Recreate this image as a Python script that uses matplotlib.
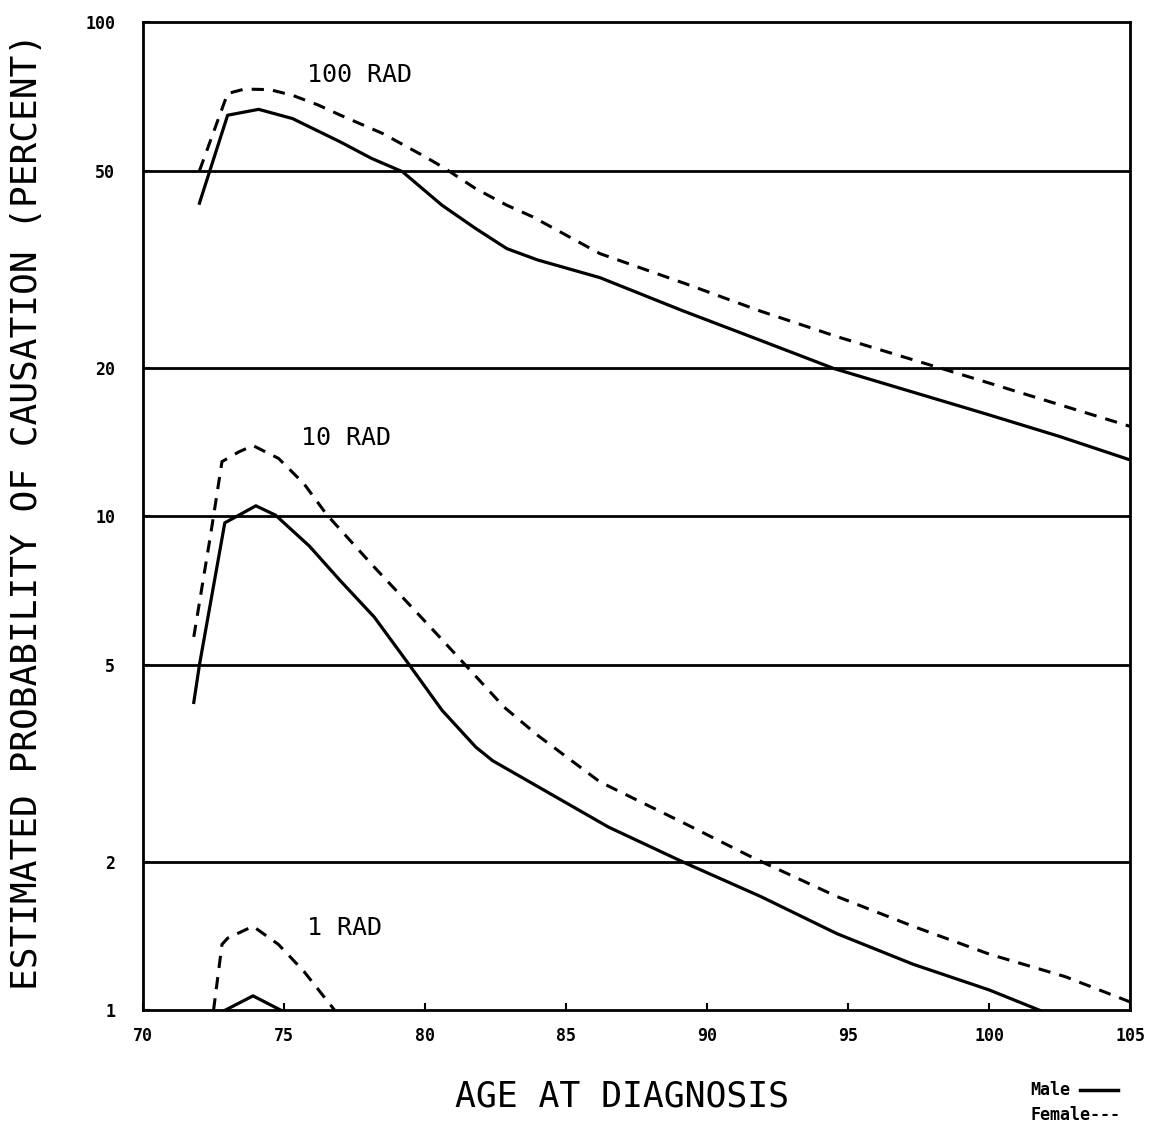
import matplotlib
matplotlib.use("Agg")
import matplotlib.pyplot as plt
from matplotlib.lines import Line2D

# 100 rad
age_m100 = [72.0, 73.0, 74.1, 75.3, 77.0, 78.1, 79.2, 80.6, 81.8, 82.9, 84.0, 86.2, 89.1, 91.8, 94.5, 97.2, 99.9, 102.5, 105.0]
m100 = [43.0, 64.8, 66.6, 63.8, 57.2, 53.0, 49.8, 42.6, 38.2, 34.8, 33.0, 30.4, 26.1, 22.8, 19.9, 17.9, 16.1, 14.5, 13.0]
age_f100 = [72.0, 73.0, 73.6, 74.5, 75.3, 76.2, 77.0, 78.5, 80.0, 80.7, 81.8, 82.9, 83.8, 86.2, 89.2, 91.9, 94.6, 98.7, 100.0, 105.0]
f100 = [50.0, 71.7, 73.2, 73.0, 71.1, 68.0, 64.8, 59.5, 53.4, 50.6, 46.0, 42.6, 40.4, 34.0, 29.6, 26.0, 23.1, 19.6, 18.6, 15.2]

# 10 rad
age_m10 = [71.8, 72.0, 72.9, 73.4, 74.0, 74.7, 75.9, 77.0, 78.2, 79.4, 80.6, 81.8, 82.4, 83.8, 86.5, 89.2, 91.9, 94.6, 97.3, 100.0, 101.8]
m10 = [4.2, 5.0, 9.7, 10.05, 10.5, 10.05, 8.7, 7.4, 6.25, 5.04, 4.05, 3.41, 3.2, 2.88, 2.35, 1.99, 1.70, 1.43, 1.24, 1.10, 1.0]
age_f10 = [71.8, 72.4, 72.8, 73.4, 73.9, 74.8, 75.7, 76.5, 78.1, 79.3, 80.4, 81.6, 82.8, 84.0, 86.2, 89.2, 91.6, 94.6, 97.3, 100.0, 102.7, 105.0]
f10 = [5.7, 9.2, 12.9, 13.5, 13.9, 13.1, 11.65, 10.1, 8.0, 6.76, 5.79, 4.88, 4.11, 3.6, 2.9, 2.39, 2.04, 1.70, 1.48, 1.30, 1.17, 1.04]

# 1 rad
age_m1 = [72.9, 73.9, 74.9]
m1 = [1.0, 1.07, 1.0]
age_f1 = [72.5, 72.8, 73.0, 73.9, 74.8, 75.7, 76.8]
f1 = [1.0, 1.36, 1.40, 1.48, 1.36, 1.20, 1.0]

grid_levels = [2, 5, 10, 20, 50]
yticks = [1, 2, 5, 10, 20, 50, 100]
xticks = [70, 75, 80, 85, 90, 95, 100, 105]
dose_labels = ["100 RAD", "10 RAD", "1 RAD"]
dose_pos = [(75.8, 78), (75.6, 14.4), (75.8, 1.47)]

mono = "DejaVu Sans Mono"

fig = plt.figure(figsize=(11.58, 11.34), dpi=100)
ax = fig.add_axes([0.1235, 0.109, 0.8525, 0.8715])
ax.set_yscale("log")
ax.set_xlim(70, 105)
ax.set_ylim(1, 100)

for g in grid_levels:
    ax.axhline(g, color="black", lw=2)

for xs, ys in [(age_m100, m100), (age_m10, m10), (age_m1, m1)]:
    ax.plot(xs, ys, color="black", lw=2.3, solid_joinstyle="round")
for xs, ys in [(age_f100, f100), (age_f10, f10), (age_f1, f1)]:
    ax.plot(xs, ys, color="black", lw=2.2, dashes=(4, 3))

for lab, (x, y) in zip(dose_labels, dose_pos):
    ax.text(x, y, lab, family=mono, fontsize=18, va="center", ha="left")

ax.set_yticks(yticks)
ax.set_yticklabels([str(t) for t in yticks], family=mono, fontsize=12, fontweight="bold")
ax.yaxis.set_minor_locator(matplotlib.ticker.NullLocator())
ax.set_xticks(xticks)
ax.set_xticklabels([str(t) for t in xticks], family=mono, fontsize=12, fontweight="bold")
ax.tick_params(axis="y", direction="in", length=5, width=1.5, pad=20)
ax.tick_params(axis="x", direction="in", length=5, width=1.5, pad=12)
for sp in ax.spines.values():
    sp.set_linewidth(2)

ax.set_xlabel("AGE AT DIAGNOSIS", family=mono, fontsize=25)
ax.xaxis.set_label_coords(0.485, -0.07)
ax.set_ylabel("ESTIMATED PROBABILITY OF CAUSATION (PERCENT)", family=mono, fontsize=26)
ax.yaxis.set_label_coords(-0.1, 0.505)

# key
fig.text(1030 / 1158, 1 - 1090 / 1134, "Male", family=mono, fontsize=12, fontweight="bold", va="center")
fig.add_artist(Line2D([1080 / 1158, 1118 / 1158], [1 - 1090 / 1134] * 2, color="black", lw=2.5))
fig.text(1030 / 1158, 1 - 1115 / 1134, "Female---", family=mono, fontsize=12, fontweight="bold", va="center")

fig.savefig("out.png", dpi=100)
